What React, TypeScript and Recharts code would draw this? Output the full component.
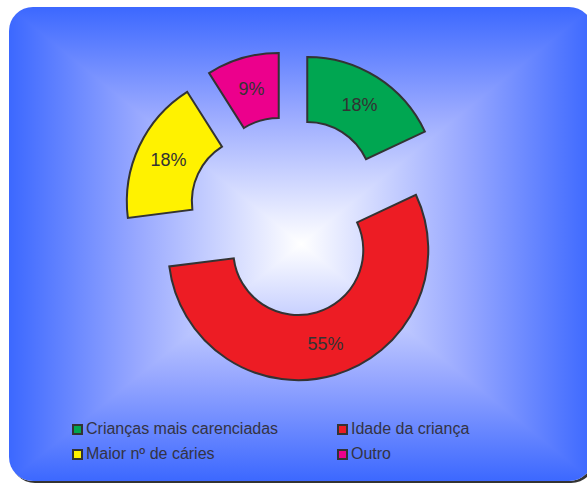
import { PieChart, Pie, Cell, Legend } from "recharts";

// data
const names = [
  "Crianças mais carenciadas",
  "Idade da criança",
  "Maior nº de cáries",
  "Outro",
];
const values = [18, 55, 18, 9];
const colors = ["#00a651", "#ed1c24", "#fff200", "#ec008c"];

const data = names.map((name, i) => ({ name, value: values[i] }));

const W = 587;
const H = 483;
const CX = 288.5;
const CY = 216.5;
const R_OUT = 130;
const R_IN = 65;
const EXPLODE = 35;
const RADIAN = Math.PI / 180;
const FONT = "'Liberation Sans', Arial, sans-serif";

const total = values.reduce((a, b) => a + b, 0);

// mid angle of each slice, recharts convention (ccw from 3 o'clock), start at 12 going clockwise
function midAngle(i: number) {
  const before = values.slice(0, i).reduce((a, b) => a + b, 0);
  return 90 - (360 * (before + values[i] / 2)) / total;
}

function renderLabel(slice: number) {
  return (props: any) => {
    if (props.index !== slice) return null;
    const r = (props.innerRadius + props.outerRadius) / 2;
    const x = props.cx + r * Math.cos(-props.midAngle * RADIAN);
    const y = props.cy + r * Math.sin(-props.midAngle * RADIAN);
    return (
      <text
        x={x}
        y={y}
        fill="#333333"
        fontSize={18}
        fontFamily={FONT}
        textAnchor="middle"
        dominantBaseline="central"
      >
        {`${Math.round((values[slice] / total) * 100)}%`}
      </text>
    );
  };
}

function LegendBox() {
  return (
    <div style={{ position: "relative", width: W, height: 50, fontFamily: FONT }}>
      {names.map((n, i) => {
        const col = i % 2;
        const row = Math.floor(i / 2);
        return (
          <div
            key={n}
            style={{
              position: "absolute",
              left: col === 0 ? 72 : 337,
              top: row * 25,
              display: "flex",
              alignItems: "center",
              height: 20,
              fontSize: 16,
              color: "#333344",
              whiteSpace: "nowrap",
            }}
          >
            <span
              style={{
                display: "inline-block",
                width: 7,
                height: 7,
                background: colors[i],
                border: "2px solid #333",
                marginRight: 3,
              }}
            />
            {n}
          </div>
        );
      })}
    </div>
  );
}

export default function App() {
  const edge = "#3c68ff";
  const mid = "#98a8ff";
  return (
    <div style={{ position: "absolute", left: 0, top: 0, width: W, height: H, overflow: "hidden" }}>
      <div
        style={{
          position: "absolute",
          left: 9,
          top: 7,
          width: 584,
          height: 474,
          borderRadius: 24,
          boxShadow: "2px 2px 0 #333",
          background: `linear-gradient(to right, ${edge}, ${mid} 22%, #ffffff 50%, ${mid} 78%, ${edge}), linear-gradient(to bottom, ${edge}, ${mid} 22%, #ffffff 50%, ${mid} 78%, ${edge})`,
          backgroundBlendMode: "darken",
        }}
      />
      <div style={{ position: "absolute", left: 0, top: 0 }}>
        <PieChart width={W} height={H} margin={{ top: 0, right: 0, bottom: 0, left: 0 }}>
          {values.map((_, s) => {
            const a = midAngle(s) * RADIAN;
            return (
              <Pie
                key={s}
                name={`slice-${s}`}
                data={data}
                dataKey="value"
                nameKey="name"
                cx={CX + EXPLODE * Math.cos(a)}
                cy={CY - EXPLODE * Math.sin(a)}
                innerRadius={R_IN}
                outerRadius={R_OUT}
                startAngle={90}
                endAngle={-270}
                label={renderLabel(s)}
                labelLine={false}
                isAnimationActive={false}
              >
                {data.map((d, i) => (
                  <Cell
                    key={d.name}
                    fill={i === s ? colors[i] : "none"}
                    stroke={i === s ? "#333333" : "none"}
                    strokeWidth={2}
                  />
                ))}
              </Pie>
            );
          })}
          <Legend
            content={() => <LegendBox />}
            wrapperStyle={{ position: "absolute", left: 0, top: 419, width: W }}
          />
        </PieChart>
      </div>
    </div>
  );
}
